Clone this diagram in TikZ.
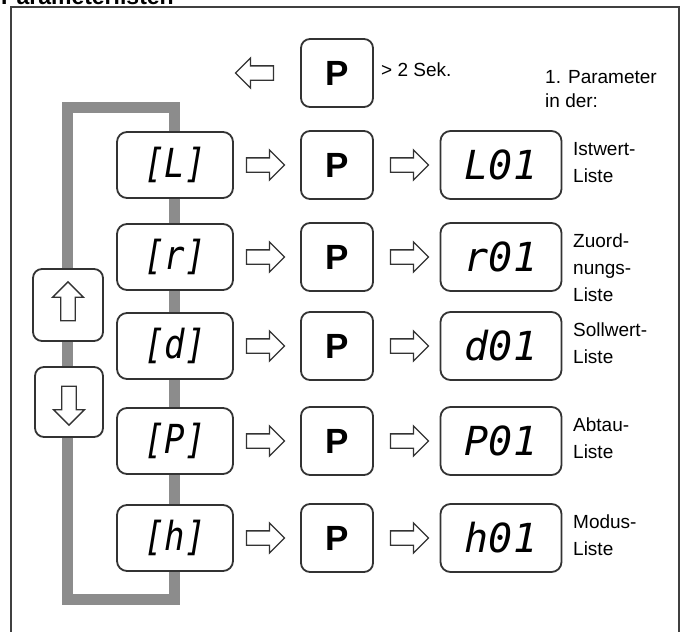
\documentclass[tikz,border=0pt]{standalone}
\usepackage{fontspec}
\setmainfont{Liberation Sans}
\newfontfamily\segfont{DejaVu Sans Mono}
\usetikzlibrary{shapes.arrows,positioning}

\begin{document}
\begin{tikzpicture}[x=1pt,y=-1pt,
  rahmen/.style={draw=black!75,line width=2pt},
  taste/.style={draw=black!80,line width=1.8pt,rounded corners=9pt,fill=white,minimum width=72pt,minimum height=68pt,inner sep=0pt,font=\bfseries\fontsize{35}{35}\selectfont},
  anzeige/.style={draw=black!80,line width=1.8pt,rounded corners=10pt,fill=white,minimum height=66pt,inner sep=0pt,font=\segfont\itshape\fontsize{40}{40}\selectfont},
  pfeil/.style={single arrow,draw=black!80,line width=1.3pt,fill=white,minimum width=29pt,minimum height=38pt,single arrow head extend=8pt,inner sep=6.5pt},
  schleife/.style={draw=black!45,line width=11pt},
  beschr/.style={align=left,inner sep=0pt,font=\fontsize{19}{27}\selectfont}]
\useasboundingbox (0,0) rectangle (683,632);
\node[anchor=base west,inner sep=0pt,font=\bfseries\fontsize{23}{23}\selectfont] (titel) at (1,4) {Parameterlisten};
\draw[rahmen] (11,7) rectangle (679,660);

% Schleife hinter den Anzeigen
\coordinate (oben) at (67,107);
\coordinate (unten) at (174,599);
\draw[schleife] (oben) rectangle (unten);

% P > 2 Sek. zurueck
\node[taste] (ptop) at (337,73) {P};
\node[pfeil,shape border rotate=180,left=26pt of ptop] (zurueck) {};
\node[beschr,anchor=west] (sek) at (381,70) {> 2 Sek.};
\node[beschr,anchor=north west,font=\fontsize{19}{24}\selectfont] (erster) at (545,70) {1. Parameter\\in der:};

% Tasten hoch / runter
\node[taste,minimum width=70pt,minimum height=72pt] (hoch) at (68,305) {};
\node[pfeil,shape border rotate=90,minimum height=39pt,minimum width=31pt] (pfhoch) at (hoch) {};
\node[taste,minimum width=68pt,minimum height=70pt] (runter) at (69,402) {};
\node[pfeil,shape border rotate=270,minimum height=39pt,minimum width=31pt] (pfrunter) at (runter) {};

% die fuenf Listen
\foreach \y/\kurz/\lang/\beschrift in {165/L/L01/{Istwert-\\Liste},257/r/r01/{Zuord-\\nungs-\\Liste},346/d/d01/{Sollwert-\\Liste},441/P/P01/{Abtau-\\Liste},538/h/h01/{Modus-\\Liste}}
  {\node[anzeige,minimum width=116pt] (code\kurz) at (175,\y) {\scalebox{0.85}[1]{[\kurz]}};
   \node[pfeil,right=12pt of code\kurz] (pf\kurz) {};
   \node[taste] (taste\kurz) at (337,\y) {P};
   \node[pfeil,right=16pt of taste\kurz] (pr\kurz) {};
   \node[anzeige,minimum width=121pt,minimum height=68pt] (wert\kurz) at (501,\y) {\lang};
   \node[beschr,anchor=north west] (liste\kurz) at (573,\y-23) {\beschrift};}

\end{tikzpicture}
\end{document}
